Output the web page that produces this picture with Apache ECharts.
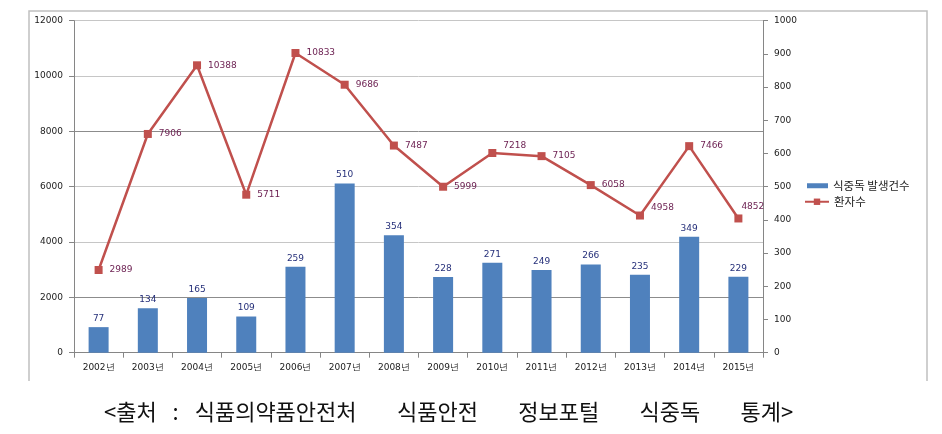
<!DOCTYPE html>
<html>
<head>
<meta charset="utf-8">
<script src="https://cdn.jsdelivr.net/npm/echarts@6/dist/echarts.min.js"></script>
<style>
html,body{margin:0;padding:0;background:#fff;}
#c{width:942px;height:434px;}
</style>
</head>
<body>
<div id="c"></div>
<script>
const categories = ['2002년','2003년','2004년','2005년','2006년','2007년','2008년','2009년','2010년','2011년','2012년','2013년','2014년','2015년'];
const outbreaks = [77,134,165,109,259,510,354,228,271,249,266,235,349,229];
const patients = [2989,7906,10388,5711,10833,9686,7487,5999,7218,7105,6058,4958,7466,4852];
const leftTicks = {min:0, max:12000, interval:2000};
const rightTicks = {min:0, max:1000, interval:100};
const G = '\u3000\u2002\u2004';
const caption = '<출처\u2002 :\u2002 식품의약품안전처' + G + '식품안전' + G + '정보포털' + G + '식중독' + G + '통계>';

// label placement tweaks (styling only)
const lineLabelOffsets = {8:[0,-7], 11:[0,-8], 13:[-8,-12]};

const chart = echarts.init(document.getElementById('c'), null, {renderer:'canvas'});
const axisFont = {fontFamily:'DejaVu Sans', fontSize:9, color:'#1a1a1a', formatter:(v)=>String(v)};
const dark = '#8c8c8c', light = '#c6c6c6';

chart.setOption({
  animation:false,
  backgroundColor:'#fff',
  grid:{left:74, right:179, top:20.7, bottom:81.3, containLabel:false},
  legend:[
    {data:[{name:'식중독 발생건수', icon:'rect'}], left:807, top:180, itemWidth:21, itemHeight:5, padding:0,
     textStyle:{fontFamily:'Noto Sans CJK KR', fontSize:11.5, color:'#222'}},
    {data:['환자수'], left:804, top:196, itemWidth:24, itemHeight:8, padding:0,
     textStyle:{fontFamily:'Noto Sans CJK KR', fontSize:11.5, color:'#222'}}
  ],
  xAxis:{
    type:'category', data:categories, boundaryGap:true,
    axisLine:{lineStyle:{color:'#868686', width:1}},
    axisTick:{show:true, alignWithLabel:false, length:5, lineStyle:{color:'#868686'}},
    axisLabel:{margin:10, interval:0, fontFamily:'DejaVu Sans', fontSize:9, color:'#1a1a1a'}
  },
  yAxis:[
    {type:'value', min:leftTicks.min, max:leftTicks.max, interval:leftTicks.interval, position:'left',
     axisLine:{show:true, lineStyle:{color:'#868686'}},
     axisTick:{show:true, length:5, lineStyle:{color:'#868686'}},
     axisLabel:Object.assign({margin:11}, axisFont),
     splitLine:{show:true, lineStyle:{color:[dark,dark,light,light,dark,light,light], width:1}}},
    {type:'value', min:rightTicks.min, max:rightTicks.max, interval:rightTicks.interval, position:'right',
     axisLine:{show:true, lineStyle:{color:'#868686'}},
     axisTick:{show:true, length:5, lineStyle:{color:'#868686'}},
     axisLabel:Object.assign({margin:11}, axisFont),
     splitLine:{show:false}}
  ],
  series:[
    {name:'식중독 발생건수', type:'bar', yAxisIndex:1, data:outbreaks, barWidth:20,
     itemStyle:{color:'#4F81BD'},
     label:{show:true, position:'top', distance:4, fontFamily:'DejaVu Sans', fontSize:9, color:'#26307a'}},
    {name:'환자수', type:'line', yAxisIndex:0,
     data:patients.map((v,i)=>({value:v, label: lineLabelOffsets[i] ? {offset:lineLabelOffsets[i]} : {}})),
     symbol:'rect', symbolSize:8,
     lineStyle:{color:'#C0504D', width:2.5},
     itemStyle:{color:'#C0504D'},
     label:{show:true, position:'right', distance:7, fontFamily:'DejaVu Sans', fontSize:9, color:'#6a1d4f'},
     z:3}
  ],
  graphic:[
    {type:'polyline', silent:true, shape:{points:[[29,381],[29,11],[927,11],[927,381]]},
     style:{stroke:'#c0c0c0', lineWidth:1.5, fill:null}},
    {type:'text', left:104, top:401, silent:true,
     style:{text:caption, fontFamily:'Noto Sans CJK KR', fontSize:22, fill:'#111'}}
  ]
});
</script>
</body>
</html>
